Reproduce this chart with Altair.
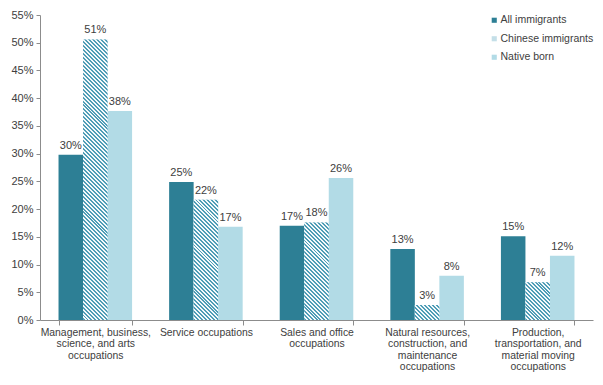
import math
import altair as alt
import pandas as pd

categories = [
    "Management, business,\nscience, and arts\noccupations",
    "Service occupations",
    "Sales and office\noccupations",
    "Natural resources,\nconstruction, and\nmaintenance\noccupations",
    "Production,\ntransportation, and\nmaterial moving\noccupations",
]
series = ["All immigrants", "Chinese immigrants", "Native born"]
all_immigrants = [29.8, 24.9, 17.0, 12.8, 15.1]
chinese_immigrants = [50.6, 21.7, 17.6, 2.7, 6.8]
native_born = [37.7, 16.8, 25.6, 8.0, 11.6]
y_ticks = [0, 5, 10, 15, 20, 25, 30, 35, 40, 45, 50, 55]

rows = []
for s, vals in zip(series, [all_immigrants, chinese_immigrants, native_born]):
    for i, (c, v) in enumerate(zip(categories, vals)):
        rows.append({"cat": c, "idx": i, "series": s, "value": v / 100})
df = pd.DataFrame(rows)

# layout
W, H = 553, 305
PAD_IN = 0.335
YMAX = 0.55
FONT = "Liberation Sans"
TXT = "#404040"
AX = "#8c8c8c"
DARK = "#2d7f95"
LIGHT = "#b2dbe6"
HATCH = "#4f9db6"
HATCH_BG = "#f4f9fb"

step = W / len(categories)
bar_w = step * (1 - PAD_IN) / 3
period = 2.8  # perpendicular stripe period in px


def hatch_gradient(v):
    h = max(v / 100 / YMAX * H, 1.0)
    w = bar_w
    s = (w + h) / (w * w + h * h)
    n = max(1, int(round((w + h) / math.sqrt(2) / period)))
    stops = []
    for k in range(n):
        a = k / n
        b = (k + 0.5) / n
        c = (k + 1) / n
        stops += [
            {"offset": a, "color": HATCH},
            {"offset": b, "color": HATCH},
            {"offset": b, "color": HATCH_BG},
            {"offset": c, "color": HATCH_BG},
        ]
    return {
        "gradient": "linear",
        "x1": 0, "y1": 1,
        "x2": s * w, "y2": 1 - s * h,
        "stops": stops,
    }


x_enc = alt.X(
    "cat:N",
    sort=categories,
    scale=alt.Scale(domain=categories, paddingInner=PAD_IN, paddingOuter=PAD_IN / 2),
    axis=alt.Axis(
        title=None,
        labelAngle=0,
        labelExpr="split(datum.label, '\\n')",
        labelLineHeight=11.5,
        labelFont=FONT,
        labelFontSize=10.4,
        labelColor=TXT,
        labelPadding=2,
        tickBand="extent",
        tickSize=5,
        tickColor=AX,
        domainColor=AX,
        labelLimit=200,
    ),
)
xo_enc = alt.XOffset(
    "series:N", sort=series, scale=alt.Scale(domain=series, paddingInner=0, paddingOuter=0)
)
y_enc = alt.Y(
    "value:Q",
    scale=alt.Scale(domain=[0, YMAX], nice=False),
    axis=alt.Axis(
        title=None,
        format=".0%",
        values=[t / 100 for t in y_ticks],
        grid=False,
        labelFont=FONT,
        labelFontSize=11,
        labelColor=TXT,
        tickSize=4,
        labelPadding=3,
        tickColor=AX,
        domainColor=AX,
    ),
)

base = alt.Chart(df).encode(x=x_enc, xOffset=xo_enc, y=y_enc)

bars = base.mark_bar().encode(
    color=alt.Color(
        "series:N",
        sort=series,
        scale=alt.Scale(domain=series, range=[DARK, "#c4dfe8", LIGHT]),
        legend=alt.Legend(
            title=None,
            orient="none",
            legendX=449,
            legendY=0,
            symbolType="square",
            symbolSize=26,
            symbolStrokeWidth=0,
            labelFont=FONT,
            labelFontSize=10.5,
            labelColor=TXT,
            labelOffset=1,
            labelLimit=200,
            rowPadding=7.5,
            padding=0,
        ),
    )
)

hatch_layers = []
for i, v in enumerate(chinese_immigrants):
    hatch_layers.append(
        base.transform_filter(
            (alt.datum.idx == i) & (alt.datum.series == "Chinese immigrants")
        ).mark_bar(fill=hatch_gradient(v))
    )

labels = base.mark_text(
    dy=-6, baseline="alphabetic", font=FONT, fontSize=11, color=TXT
).encode(text=alt.Text("value:Q", format=".0%"))

chart = (
    alt.layer(bars, *hatch_layers, labels)
    .properties(
        width=W,
        height=H,
        autosize=alt.AutoSizeParams(type="none"),
        padding={"left": 32, "top": 7, "right": 2, "bottom": 57},
    )
    .configure_view(strokeWidth=0)
)

chart.save("out.html", embed_options={"renderer": "svg", "actions": False})
